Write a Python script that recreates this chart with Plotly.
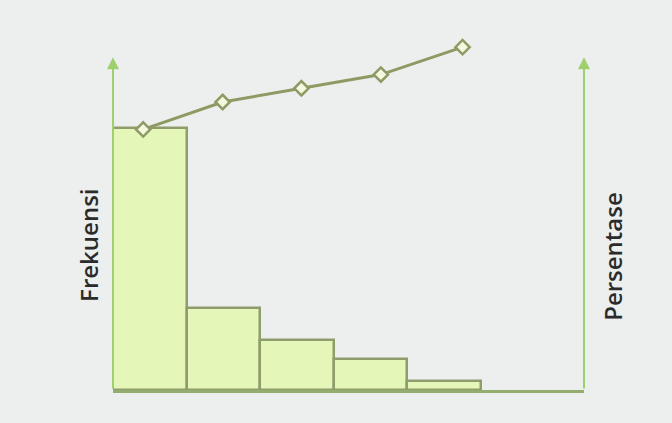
import plotly.graph_objects as go

# Pareto diagram: frequency bars with a cumulative percentage line
categories = [0, 1, 2, 3, 4]
frekuensi = [50, 15.6, 9.5, 5.9, 1.7]
persen_x = [-0.09, 0.99, 2.06, 3.14, 4.25]
persentase = [76, 84, 88, 92, 100]

AXIS_GREEN = "#9fd06e"
OLIVE = "#8e9a64"
BAR_FILL = "#e4f6b8"
BAR_EDGE = "#8f9d6c"

fig = go.Figure()

fig.add_trace(go.Bar(
    x=categories, y=frekuensi, width=1.0,
    marker=dict(color=BAR_FILL, line=dict(color=BAR_EDGE, width=2.5)),
    showlegend=False, hoverinfo="skip",
))

fig.add_trace(go.Scatter(
    x=persen_x, y=persentase, yaxis="y2", mode="lines+markers",
    line=dict(color=OLIVE, width=3),
    marker=dict(symbol="diamond", size=11, color="#f5f8df",
                line=dict(color=OLIVE, width=2.5)),
    cliponaxis=False, showlegend=False, hoverinfo="skip",
))

x_lo, x_hi = -0.5, 5.9
y_top = 63.5

# axis arrows (left: frequency, right: percentage)
for xa in (x_lo, x_hi):
    fig.add_annotation(
        x=xa, y=y_top, ax=xa, ay=0, xref="x", yref="y", axref="x", ayref="y",
        showarrow=True, arrowhead=2, arrowsize=1.2, arrowwidth=2,
        arrowcolor=AXIS_GREEN, text="",
    )

label_font = dict(family="Open Sans, sans-serif", size=24, color="#2b2b2b",
                  weight=600)
fig.add_annotation(
    text="Frekuensi", x=-0.051, y=0.403, xref="paper", yref="paper",
    xanchor="center", yanchor="middle",
    textangle=-90, showarrow=False, font=label_font,
)
fig.add_annotation(
    text="Persentase", x=1.059, y=0.372, xref="paper", yref="paper",
    xanchor="center", yanchor="middle",
    textangle=-90, showarrow=False, font=label_font,
)

fig.update_layout(
    width=672, height=423,
    margin=dict(l=113, r=88, t=30, b=33),
    paper_bgcolor="#ecefee", plot_bgcolor="#ecefee",
    bargap=0,
    xaxis=dict(range=[x_lo, x_hi], showgrid=False, zeroline=False,
               showticklabels=False, ticks="", showline=True,
               linecolor="#93ad6f", linewidth=3),
    yaxis=dict(range=[0, 68.7], showgrid=False, zeroline=False,
               showticklabels=False, ticks="", showline=False),
    yaxis2=dict(range=[0, 105], overlaying="y", side="right",
                showgrid=False, zeroline=False, showticklabels=False,
                ticks="", showline=False),
)

fig.write_html("out.html")
